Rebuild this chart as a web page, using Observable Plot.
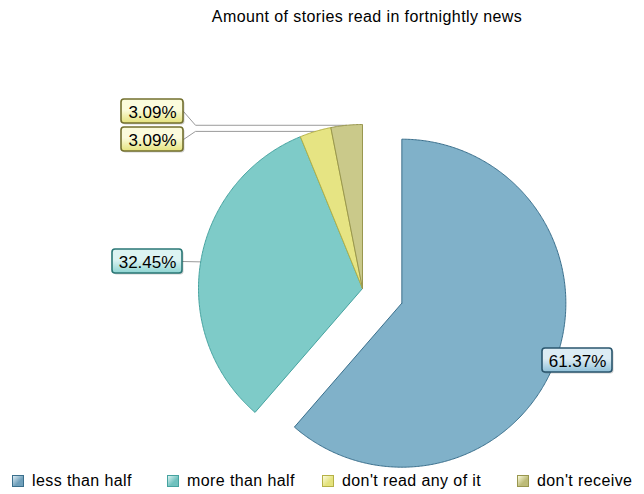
<!DOCTYPE html>
<html><head><meta charset="utf-8">
<script src="https://cdn.jsdelivr.net/npm/d3@7"></script>
<script src="https://cdn.jsdelivr.net/npm/@observablehq/plot@0.6"></script>
<style>
html,body{margin:0;padding:0;background:#fff;}
body{font-family:"Liberation Sans",Arial,sans-serif;color:#000;}
#wrap{width:644px;height:494px;position:relative;overflow:hidden;}
#title{position:absolute;left:0;top:0;width:644px;height:32px;line-height:34px;font-size:16px;letter-spacing:0.4px;text-align:center;box-sizing:border-box;padding-left:90px;}
#chart{position:absolute;left:0;top:32px;}
#legend{position:absolute;left:0;top:470px;width:644px;height:24px;font-size:16px;letter-spacing:0.4px;}
.item{position:absolute;top:0;height:20px;line-height:20px;white-space:nowrap;}
.sw{position:absolute;top:5px;width:10px;height:10px;border:1px solid;}
.lt{position:absolute;left:20px;top:1px;}
</style></head>
<body><div id="wrap"><div id="title">Amount of stories read in fortnightly news</div><div id="chart"></div><div id="legend"></div></div>
<script>
// ---- data ----
const categories = ["less than half", "more than half", "don't read any of it", "don't receive"];
const percents = [61.37, 32.45, 3.09, 3.09];
const labels = ["61.37%", "32.45%", "3.09%", "3.09%"];

// ---- styles ----
const fills = ["#80b1c9", "#7ecbc8", "#e6e483", "#cac98a"];
const strokes = ["#3a6f8c", "#46a3a0", "#b5b146", "#99974f"];
const boxStroke = ["#2a566d", "#2a7775", "#73702f", "#73702f"];
const boxTop = ["#dcecf4", "#dcf3f2", "#fbfbdc", "#fbfbdc"];
const boxBottom = ["#8fc0d8", "#8dd4d1", "#e4e27c", "#e4e27c"];
const swatchFill = ["#6f9fba", "#6fc1be", "#e4e27c", "#bdbb78"];

// ---- layout ----
const W = 644, H = 436, TOP = 32;
const cx = 362, cy = 288 - TOP, R = 164, explode = 42;
const boxes = [ // page coords
  {cx: 577, cy: 360, w: 70},
  {cx: 147, cy: 261, w: 70},
  {cx: 152, cy: 139, w: 62},
  {cx: 152, cy: 111, w: 62}
];
const boxH = 24, elbowX = 195;

const data = categories.map((c, i) => ({cat: c, value: percents[i], i}));
const arcs = d3.pie().sort(null).value(d => d.value)(data);

const slicePts = [];
const midPts = [];
arcs.forEach((a, i) => {
  const mid = (a.startAngle + a.endAngle) / 2;
  const off = i === 0 ? explode : 0;
  const ox = cx + off * Math.sin(mid), oy = cy - off * Math.cos(mid);
  slicePts.push({i, x: ox, y: oy});
  const n = Math.max(4, Math.ceil((a.endAngle - a.startAngle) / (Math.PI / 360)));
  for (let k = 0; k <= n; k++) {
    const t = a.startAngle + (a.endAngle - a.startAngle) * k / n;
    slicePts.push({i, x: ox + R * Math.sin(t), y: oy - R * Math.cos(t)});
  }
  slicePts.push({i, x: ox, y: oy});
  midPts.push({x: ox + R * Math.sin(mid), y: oy - R * Math.cos(mid)});
});

// leader lines
const leaders = [];
[1, 2, 3].forEach(i => {
  const b = boxes[i], m = midPts[i];
  const bx = b.cx + b.w / 2, by = b.cy - TOP;
  leaders.push({i, x: bx, y: by});
  if (Math.abs(by - m.y) > 2) leaders.push({i, x: elbowX, y: m.y});
  leaders.push({i, x: m.x, y: m.y});
});

const boxData = boxes.map((b, i) => ({i, x1: b.cx - b.w / 2, x2: b.cx + b.w / 2, y1: b.cy - TOP - boxH / 2, y2: b.cy - TOP + boxH / 2, x: b.cx, y: b.cy - TOP, label: labels[i]}));

const marks = [
  Plot.line(leaders, {x: "x", y: "y", z: "i", stroke: "#9a9a9a", strokeWidth: 1})
];
arcs.forEach((a, i) => {
  marks.push(Plot.line(slicePts.filter(p => p.i === i), {x: "x", y: "y", fill: fills[i], stroke: strokes[i], strokeWidth: 1, strokeLinejoin: "round"}));
});
// box shadows
marks.push(Plot.rect(boxData, {x1: d => d.x1 + 1.5, x2: d => d.x2 + 1.5, y1: d => d.y1 + 1.5, y2: d => d.y2 + 1.5, rx: 3, fill: "#000", fillOpacity: 0.18}));
boxData.forEach((b, i) => {
  marks.push(Plot.rect([b], {x1: "x1", x2: "x2", y1: "y1", y2: "y2", rx: 3, fill: `url(#lg${i})`, stroke: boxStroke[i], strokeWidth: 1.6}));
});
marks.push(Plot.text(boxData, {x: "x", y: "y", text: "label", fontSize: 17, fill: "#000", dy: 1, fontFamily: "Liberation Sans, Arial, sans-serif"}));

const chart = Plot.plot({
  width: W, height: H,
  margin: 0,
  x: {type: "identity", axis: null},
  y: {type: "identity", axis: null},
  style: {overflow: "visible", background: "transparent"},
  marks
});

// gradients for label boxes
const svg = d3.select(chart);
const defs = svg.insert("defs", ":first-child");
boxes.forEach((b, i) => {
  const g = defs.append("linearGradient").attr("id", `lg${i}`).attr("x1", 0).attr("y1", 0).attr("x2", 0).attr("y2", 1);
  g.append("stop").attr("offset", "0%").attr("stop-color", boxTop[i]);
  g.append("stop").attr("offset", "45%").attr("stop-color", boxTop[i]);
  g.append("stop").attr("offset", "100%").attr("stop-color", boxBottom[i]);
});
document.getElementById("chart").appendChild(chart);

// legend
const legendX = [12, 167, 322, 517];
const legend = document.getElementById("legend");
categories.forEach((c, i) => {
  const it = document.createElement("div");
  it.className = "item";
  it.style.left = legendX[i] + "px";
  const sw = document.createElement("span");
  sw.className = "sw";
  sw.style.background = `linear-gradient(135deg, ${boxTop[i]}, ${swatchFill[i]} 60%)`;
  sw.style.borderColor = strokes[i];
  const t = document.createElement("span");
  t.className = "lt";
  t.textContent = c;
  it.appendChild(sw); it.appendChild(t);
  legend.appendChild(it);
});
</script></body></html>
